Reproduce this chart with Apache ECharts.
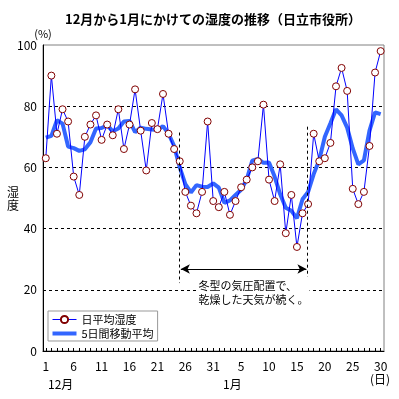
<!DOCTYPE html>
<html>
<head>
<meta charset="utf-8">
<script src="https://cdn.jsdelivr.net/npm/echarts@6/dist/echarts.min.js"></script>
<style>
  html, body { margin: 0; padding: 0; background: #fff; }
  #chart { width: 399px; height: 399px; }
</style>
</head>
<body>
<div id="chart"></div>
<script>
// 日付ラベル（12/1〜1/30）
var days = ['1','2','3','4','5','6','7','8','9','10','11','12','13','14','15','16','17','18','19','20',
  '21','22','23','24','25','26','27','28','29','30','31',
  '1','2','3','4','5','6','7','8','9','10','11','12','13','14','15','16','17','18','19','20',
  '21','22','23','24','25','26','27','28','29','30'];
// 目盛りラベルを出す位置（通し番号）
var labelDays = [1, 6, 11, 16, 21, 26, 31, 36, 41, 46, 51, 56, 61];
// 日平均湿度
var humidity = [63, 90, 71, 79, 75, 57, 51, 70, 74, 77, 69, 74, 70.5, 79, 66, 74, 85.5, 72, 59, 74.5,
  72.5, 84, 71, 66, 62, 52, 47.5, 45, 52, 75, 49,
  47, 52, 44.5, 49, 53.5, 56, 60, 62, 80.5, 56, 49, 61, 38.5, 51, 34, 45, 48, 71, 62,
  63, 68, 86.5, 92.5, 85, 53, 48, 52, 67, 91, 98];
// 5日間移動平均
var movingAvg = [69.7, 70.3, 75.4, 74.3, 66.8, 66.3, 65.4, 65.9, 68.2, 72.7, 72.9, 73.8, 71.8, 72.7, 75, 75.2,
  71.5, 73, 72.6, 72.4, 72.2, 73.5, 71, 67, 60, 54.5, 51.8, 54.2, 53.7, 53.6, 54.8,
  53.4, 48.4, 49.2, 51, 52.7, 56, 62.2, 62.8, 61.5, 61.6, 57, 51.2, 46.8, 45.8, 43.4, 49.6, 52, 57.8, 62.4,
  70, 74.4, 79, 77, 73, 66.2, 61, 62.3, 72, 78, 77.4];

var font = '"Noto Sans CJK JP", sans-serif';

var chart = echarts.init(document.getElementById('chart'));
chart.setOption({
  animation: false,
  textStyle: { fontFamily: font, color: '#000' },
  title: {
    text: '12月から1月にかけての湿度の推移（日立市役所）',
    left: 60, top: 8,
    textStyle: { fontFamily: font, fontSize: 13, fontWeight: 'bold', color: '#000' }
  },
  grid: { left: 43, right: 15, top: 45, bottom: 48, show: true, borderColor: '#808080', borderWidth: 1 },
  legend: {
    orient: 'vertical',
    left: 48, top: 311,
    padding: [3, 4, 2, 4],
    itemWidth: 24, itemHeight: 9, itemGap: 3,
    borderColor: '#999', borderWidth: 1, backgroundColor: '#fff',
    textStyle: { fontFamily: font, fontSize: 11, color: '#000' },
    data: [
      { name: '日平均湿度', lineStyle: { width: 1 } },
      { name: '5日間移動平均', icon: 'path://M0,0 L24,0 L24,4 L0,4 Z', itemStyle: { color: '#3366ff' } }
    ]
  },
  xAxis: {
    type: 'value',
    min: 0.5, max: 61.6,
    axisLine: { lineStyle: { color: '#000' } },
    axisTick: { inside: true, length: 3, lineStyle: { color: '#000' },
      customValues: humidity.map(function (v, i) { return i + 1; }) },
    axisLabel: { fontSize: 12, color: '#000', margin: 9, customValues: labelDays,
      formatter: function (v) { return days[Math.round(v) - 1]; } },
    splitLine: { show: false }
  },
  yAxis: {
    type: 'value',
    min: 0, max: 100, interval: 20,
    name: '(%)',
    nameLocation: 'end',
    nameGap: 0,
    nameTextStyle: { fontSize: 11, color: '#000', align: 'center', verticalAlign: 'bottom' },
    axisLine: { show: true, lineStyle: { color: '#000' } },
    axisTick: { show: false },
    axisLabel: { fontSize: 12, color: '#000', margin: 6 },
    splitLine: { show: true, showMinLine: false, showMaxLine: false,
      lineStyle: { color: '#000', type: [3, 3], width: 1 } }
  },
  graphic: [
    { type: 'text', left: 7, top: 186, style: { text: '湿\n度', font: '12px ' + font, lineHeight: 13, fill: '#000' } },
    { type: 'text', left: 48, top: 378, style: { text: '12月', font: '12px ' + font, fill: '#000' } },
    { type: 'text', left: 223, top: 378, style: { text: '1月', font: '12px ' + font, fill: '#000' } },
    { type: 'text', left: 370, top: 373, style: { text: '(日)', font: '12px ' + font, fill: '#000' } }
  ],
  series: [
    {
      name: '5日間移動平均',
      type: 'line',
      data: movingAvg.map(function (v, i) { return [i + 1, v]; }),
      symbol: 'none',
      lineStyle: { color: '#3366ff', width: 4 },
      itemStyle: { color: '#3366ff' },
      z: 2
    },
    {
      name: '日平均湿度',
      type: 'line',
      data: humidity.map(function (v, i) { return [i + 1, v]; }),
      symbol: 'circle',
      symbolSize: 7,
      lineStyle: { color: '#0000ff', width: 1 },
      itemStyle: { color: '#fff', borderColor: '#800000', borderWidth: 1 },
      z: 3,
      markLine: {
        silent: true,
        symbol: ['none', 'none'],
        label: { show: false },
        data: [
          [{ coord: [25, 71.4], lineStyle: { color: '#000', type: [3, 3], width: 1 } }, { coord: [25, 22.2] }],
          [{ coord: [47.85, 73.3], lineStyle: { color: '#000', type: [3, 3], width: 1 } }, { coord: [47.85, 24.2] }],
          [{ coord: [25.2, 26.8], symbol: 'arrow', lineStyle: { color: '#000', type: 'solid', width: 1 } },
           { coord: [47.7, 26.8], symbol: 'arrow' }]
        ],
        symbolSize: [7, 9]
      },
      markPoint: {
        silent: true,
        symbol: 'rect',
        symbolSize: 1,
        itemStyle: { color: 'rgba(0,0,0,0)' },
        data: [{
          coord: [28.1, 19.0],
          label: {
            show: true, position: 'right', distance: 0,
            formatter: '冬型の気圧配置で、\n乾燥した天気が続く。',
            fontFamily: font, fontSize: 11, lineHeight: 14, color: '#000',
            backgroundColor: '#fff', padding: [0, 1]
          }
        }]
      }
    }
  ]
});
</script>
</body>
</html>
